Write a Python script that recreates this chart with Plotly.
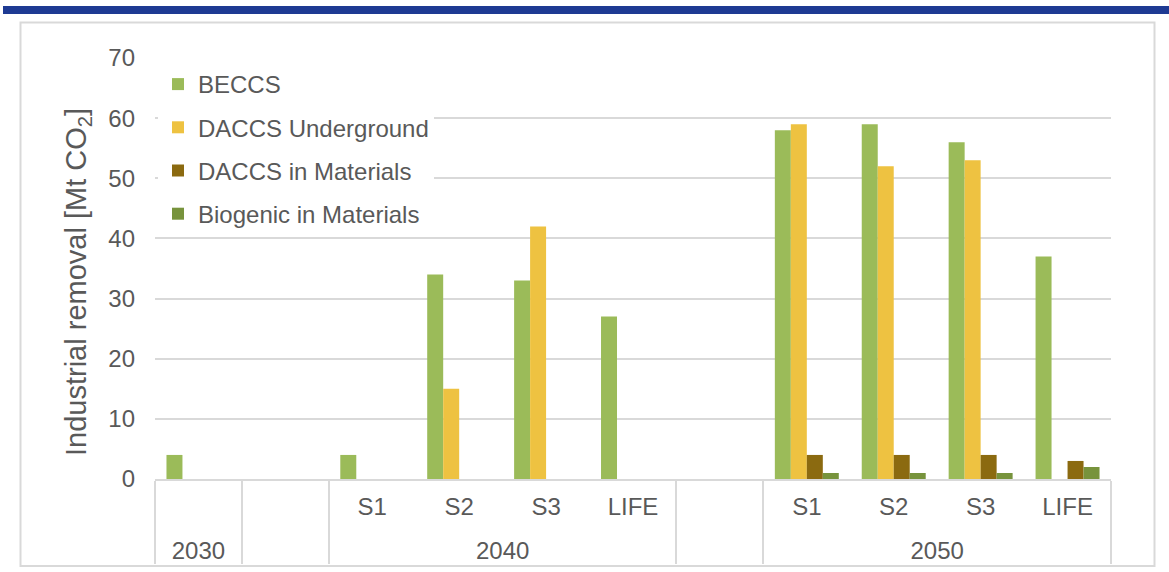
import plotly.graph_objects as go

# Category layout: outer level (year) and inner level (scenario)
years = ["2030", " ", "2040", "2040", "2040", "2040", "  ", "2050", "2050", "2050", "2050"]
scenarios = ["", "", "S1", "S2", "S3", "LIFE", "", "S1", "S2", "S3", "LIFE"]

# Industrial removal by route [Mt CO2]
beccs = [4, 0, 4, 34, 33, 27, 0, 58, 59, 56, 37]
daccs_underground = [0, 0, 0, 15, 42, 0, 0, 59, 52, 53, 0]
daccs_materials = [0, 0, 0, 0, 0, 0, 0, 4, 4, 4, 3]
biogenic_materials = [0, 0, 0, 0, 0, 0, 0, 1, 1, 1, 2]

series = [
    ("BECCS", beccs, "#9BBB59"),
    ("DACCS Underground", daccs_underground, "#EEC241"),
    ("DACCS in Materials", daccs_materials, "#8B6A10"),
    ("Biogenic in Materials", biogenic_materials, "#77933C"),
]

W, H = 1169, 572
ML, MR, MT, MB = 155, 58, 58, 93
PW, PH = W - ML - MR, H - MT - MB

def px_x(x):
    return (x - ML) / PW

def px_y(y):
    return 1 - (y - MT) / PH

FONT = "Liberation Sans, Arial, sans-serif"
GREY_TXT = "#595959"
GRID = "#D9D9D9"
FS = 24

# one inner label gets a short blank second line; the year row is placed
# below the tallest inner label, which gives it the wider row spacing
inner_text = list(scenarios)
inner_text[-1] = inner_text[-1] + "<br><sup>\u00a0</sup>"

fig = go.Figure()
for name, vals, color in series:
    fig.add_trace(go.Bar(
        x=[years, inner_text],
        y=vals,
        name=name,
        legendgroup=name,
        marker=dict(color=color, line=dict(width=0)),
    ))

fig.update_layout(
    width=W,
    height=H,
    margin=dict(l=ML, r=MR, t=MT, b=MB),
    paper_bgcolor="white",
    plot_bgcolor="white",
    barmode="group",
    bargap=0.264,
    bargroupgap=0,
    font=dict(family=FONT, size=FS, color=GREY_TXT),
    legend=dict(
        x=px_x(158), y=px_y(62), xanchor="left", yanchor="top",
        bgcolor="white",
        traceorder="grouped",
        tracegroupgap=9,
        font=dict(size=FS, color=GREY_TXT),
    ),
    xaxis=dict(
        type="multicategory",
        automargin=False,
        showline=True, linecolor=GRID, linewidth=1.5,
        showgrid=False,
        ticks="", ticklabelstandoff=5,
        showdividers=True, dividercolor=GRID, dividerwidth=1.5,
        tickfont=dict(size=FS, color=GREY_TXT),
    ),
    yaxis=dict(
        automargin=False,
        range=[0, 70], dtick=10,
        showgrid=True, gridcolor=GRID, gridwidth=1.5,
        zeroline=False, showline=False,
        ticks="", ticklabelstandoff=19,
        tickfont=dict(size=FS, color=GREY_TXT),
    ),
    annotations=[
        # y-axis title
        dict(text="Industrial removal [Mt CO<sub>2</sub>]",
             xref="paper", yref="paper", x=px_x(78), y=px_y(282),
             xanchor="center", yanchor="middle", textangle=-90,
             showarrow=False, font=dict(size=29, color=GREY_TXT)),
    ],
    shapes=[
        # top band
        dict(type="rect", xref="paper", yref="paper",
             x0=px_x(3), x1=px_x(1169), y0=px_y(14), y1=px_y(6),
             fillcolor="#1E3A93", line=dict(width=0), layer="above"),
        # outer frame
        dict(type="rect", xref="paper", yref="paper",
             x0=px_x(20.5), x1=px_x(1154.5), y0=px_y(566), y1=px_y(22.5),
             fillcolor="rgba(0,0,0,0)", line=dict(color=GRID, width=2), layer="below"),
    ],
)

fig.write_html("out.html")
